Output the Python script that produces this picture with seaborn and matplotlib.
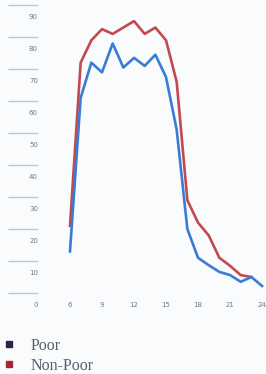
import pandas as pd
import seaborn as sns
import matplotlib
import matplotlib.pyplot as plt
from matplotlib.lines import Line2D
plt.switch_backend('agg')

hours = list(range(6, 25))
poor = [13, 61, 72, 69, 78, 70.5, 73.5, 71, 74.5, 67.5, 51, 20, 11, 8.7, 6.6, 5.6, 3.5, 5, 2.2]
non_poor = [21, 72, 79, 82.5, 81, 83, 85, 81, 83, 79, 66, 29, 22, 18, 11, 8.5, 5.6, 5]
y_levels = [0, 10, 20, 30, 40, 50, 60, 70, 80, 90]
x_ticks = [6, 9, 12, 15, 18, 21, 24]
series = ['Poor', 'Non-Poor']

line_colors = {'Poor': '#3a7bd5', 'Non-Poor': '#c24a4f'}
legend_colors = {'Poor': '#2b2742', 'Non-Poor': '#a0283a'}
bg = '#fafbfc'
label_color = '#6f7a8a'

df = pd.concat([
    pd.DataFrame({'hour': hours, 'pct': poor, 'group': 'Poor'}),
    pd.DataFrame({'hour': hours[:len(non_poor)], 'pct': non_poor, 'group': 'Non-Poor'}),
])

fig = plt.figure(figsize=(2.66, 3.74), dpi=100, facecolor=bg)
ax = fig.add_axes([0, 1 - 296.2 / 374, 1, 296.2 / 374])
ax.set_facecolor(bg)

sns.lineplot(data=df, x='hour', y='pct', hue='group', hue_order=['Non-Poor', 'Poor'],
             palette=line_colors, linewidth=1.9, legend=False, ax=ax)

ax.set_xlim(-0.56, 24.37)
ax.set_ylim(-1, 91.6)

# short guide lines with their labels sitting just below
ax.hlines(y_levels, 0.19, 3.0, color='#bcc6d6', linewidth=1.0)
for v in y_levels:
    ax.text(3.0, v - 3.75, str(v), ha='right', va='center', fontsize=5,
            color=label_color, family='Liberation Sans Narrow')

ax.set_xticks(x_ticks)
ax.set_xticklabels([str(t) for t in x_ticks], fontsize=5, color=label_color,
                   family='Liberation Sans Narrow')
ax.tick_params(axis='x', length=0, pad=4.2)
ax.set_yticks([])
ax.set_xlabel('')
ax.set_ylabel('')
for s in ax.spines.values():
    s.set_visible(False)

handles = [Line2D([], [], marker='s', linestyle='', markersize=4.2,
                  color=legend_colors[g]) for g in series]
leg = fig.legend(handles, series, loc='upper left', bbox_to_anchor=(-0.038, 0.126),
                 frameon=False, handletextpad=0.85, labelspacing=0.25,
                 handlelength=1.0, borderaxespad=0.3,
                 prop={'family': 'Liberation Serif', 'size': 11.5})
for t in leg.get_texts():
    t.set_color('#55606f')

fig.savefig('out.png', dpi=100, facecolor=bg)
